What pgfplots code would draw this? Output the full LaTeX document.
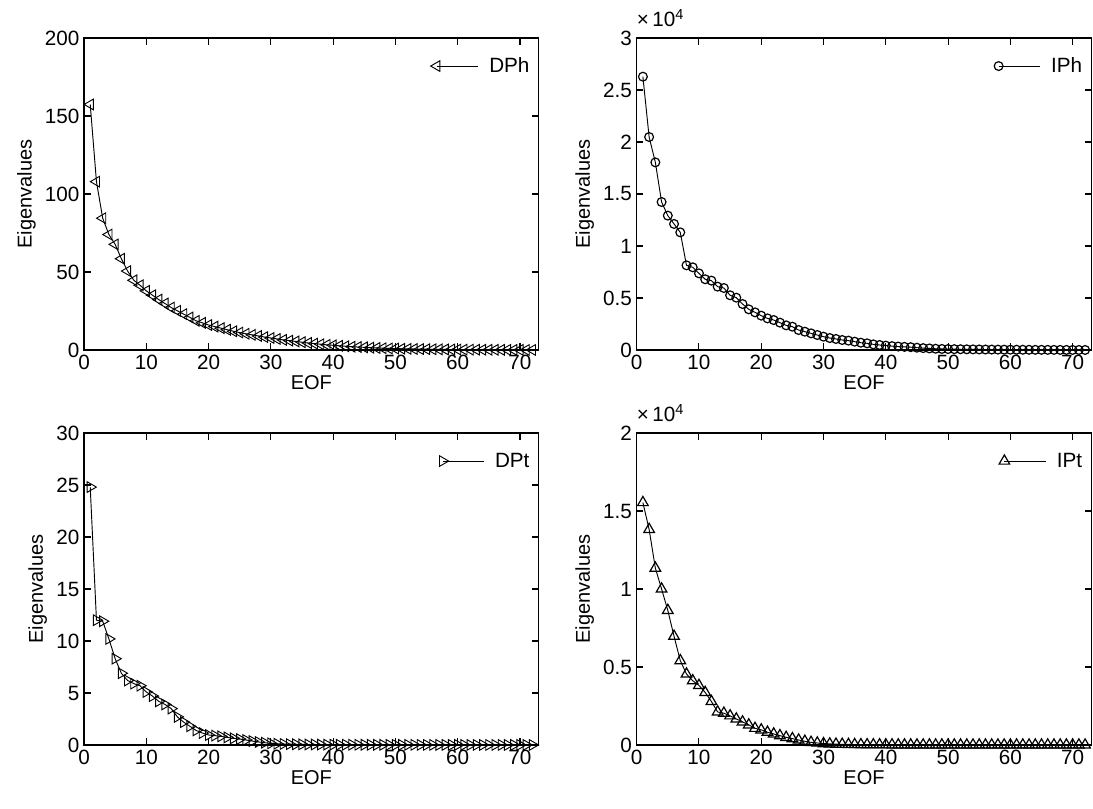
\documentclass[border=0pt]{standalone}
\usepackage{pgfplots}
\pgfplotsset{compat=1.18}
\usepackage{fontspec}
\setmainfont{Liberation Sans}

\pgfplotsset{
  eig/.style={
    scale only axis,
    width=341pt, height=234pt,
    xmin=0, xmax=73,
    xtick={0,10,...,70},
    tick align=inside,
    major tick length=5pt,
    axis line style={line width=0.8pt},
    every tick/.style={line width=0.8pt, black},
    font=\fontsize{15.5}{17}\selectfont,
    tick label style={font=\fontsize{15.5}{17}\selectfont},
    label style={font=\fontsize{15}{17}\selectfont},
    /pgf/number format/assume math mode=true,
    xlabel={EOF}, ylabel={Eigenvalues},
    xlabel style={yshift=2pt},
    ylabel style={yshift=0pt},
    legend style={draw=none, fill=none, anchor=east, at={(rel axis cs:0.995,0.91)},
      font=\fontsize{15.5}{17}\selectfont},
    legend image code/.code={
      \draw[##1,mark=none] (0pt,0pt) -- (31pt,0pt);
      \draw[##1,only marks] plot coordinates {(0pt,0pt)};
      \path (37pt,0pt);
    },
    every y tick scale label/.style={at={(rel axis cs:0,1)}, anchor=south west, inner sep=0pt, yshift=8pt,
      font=\fontsize{15.5}{17}\selectfont},
    ytick scale label code/.code={×\,10\textsuperscript{##1}},
  },
  ser/.style={black, line width=0.7pt, mark options={solid, fill=white, line width=0.9pt}},
}

\pgfplotstableread{
x y
1 157.4
2 107.9
3 84.5
4 74
5 67.7
6 58.5
7 50.6
8 44.7
9 41.5
10 37.9
11 35.1
12 32.3
13 29.8
14 27.2
15 25.1
16 23
17 20.9
18 18.7
19 17.4
20 16
21 15
22 14
23 13
24 12
25 11.2
26 10.4
27 9.7
28 9
29 8.3
30 7.7
31 7.1
32 6.5
33 6
34 5.5
35 5
36 4.5
37 4.1
38 3.7
39 3.3
40 3
41 2.7
42 2.4
43 2.1
44 1.9
45 1.7
46 1.5
47 1.3
48 1.15
49 1.0
50 0.9
51 0.8
52 0.72
53 0.65
54 0.58
55 0.52
56 0.46
57 0.41
58 0.36
59 0.32
60 0.28
61 0.25
62 0.22
63 0.19
64 0.16
65 0.14
66 0.12
67 0.10
68 0.08
69 0.06
70 0.05
71 0.03
72 0.02
}\DPh

\pgfplotstableread{
x y
1 26280
2 20480
3 18040
4 14230
5 12920
6 12120
7 11310
8 8140
9 7950
10 7370
11 6800
12 6670
13 6090
14 5960
15 5260
16 5030
17 4420
18 3910
19 3620
20 3300
21 3040
22 2880
23 2630
24 2370
25 2240
26 1920
27 1760
28 1600
29 1440
30 1280
31 1150
32 1060
33 960
34 900
35 800
36 700
37 640
38 540
39 480
40 420
41 370
42 330
43 300
44 270
45 220
46 180
47 150
48 120
49 100
50 90
51 80
52 72
53 65
54 58
55 52
56 46
57 41
58 36
59 32
60 28
61 25
62 22
63 19
64 16
65 14
66 12
67 10
68 8
69 6
70 5
71 3
72 2
}\IPh

\pgfplotstableread{
x y
1 24.8
2 12.0
3 11.9
4 10.2
5 8.3
6 6.9
7 6.2
8 5.9
9 5.7
10 5.1
11 4.7
12 4.2
13 3.9
14 3.5
15 2.7
16 2.2
17 1.8
18 1.4
19 1.15
20 0.96
21 0.9
22 0.83
23 0.73
24 0.64
25 0.57
26 0.48
27 0.38
28 0.29
29 0.22
30 0.16
31 0.12
32 0.10
33 0.08
34 0.07
35 0.06
36 0.05
37 0.045
38 0.04
39 0.035
40 0.03
41 0.028
42 0.026
43 0.024
44 0.022
45 0.02
46 0.019
47 0.018
48 0.017
49 0.016
50 0.015
51 0.014
52 0.013
53 0.012
54 0.011
55 0.01
56 0.01
57 0.009
58 0.009
59 0.008
60 0.008
61 0.007
62 0.007
63 0.006
64 0.006
65 0.005
66 0.005
67 0.005
68 0.004
69 0.004
70 0.004
71 0.003
72 0.003
}\DPt

\pgfplotstableread{
x y
1 15540
2 13820
3 11340
4 10000
5 8630
6 6970
7 5410
8 4550
9 4120
10 3820
11 3370
12 2790
13 2120
14 2040
15 1870
16 1670
17 1480
18 1290
19 1070
20 970
21 820
22 710
23 600
24 490
25 410
26 320
27 240
28 170
29 130
30 90
31 70
32 55
33 45
34 37
35 30
36 25
37 20
38 17
39 14
40 12
41 10
42 8
43 7
44 6
45 5
46 4
47 4
48 3
49 3
50 2
51 2
52 2
53 2
54 1
55 1
56 1
57 1
58 1
59 1
60 1
61 1
62 1
63 1
64 1
65 1
66 1
67 1
68 1
69 1
70 1
71 1
72 1
}\IPt

\begin{document}
\begin{tikzpicture}
\useasboundingbox (0,0) rectangle (819.75pt,606.75pt);

\begin{axis}[eig, at={(63pt,344.25pt)}, anchor=south west,
  ymin=0, ymax=200, ytick={0,50,...,200}]
\addplot[ser, mark=triangle, mark size=4.6pt, mark options={rotate=90}] table {\DPh};
\addlegendentry{DPh}
\end{axis}

\begin{axis}[eig, at={(477.5pt,344.25pt)}, anchor=south west,
  ymin=0, ymax=30000, ytick={0,5000,...,30000}, scaled y ticks=base 10:-4]
\addplot[ser, mark=o, mark size=3.3pt] table {\IPh};
\addlegendentry{IPh}
\end{axis}

\begin{axis}[eig, at={(63pt,48pt)}, anchor=south west,
  ymin=0, ymax=30, ytick={0,5,...,30}]
\addplot[ser, mark=triangle, mark size=4.6pt, mark options={rotate=-90}] table {\DPt};
\addlegendentry{DPt}
\end{axis}

\begin{axis}[eig, at={(477.5pt,48pt)}, anchor=south west,
  ymin=0, ymax=20000, ytick={0,5000,...,20000}, scaled y ticks=base 10:-4]
\addplot[ser, mark=triangle, mark size=4.6pt] table {\IPt};
\addlegendentry{IPt}
\end{axis}
\end{tikzpicture}
\end{document}
